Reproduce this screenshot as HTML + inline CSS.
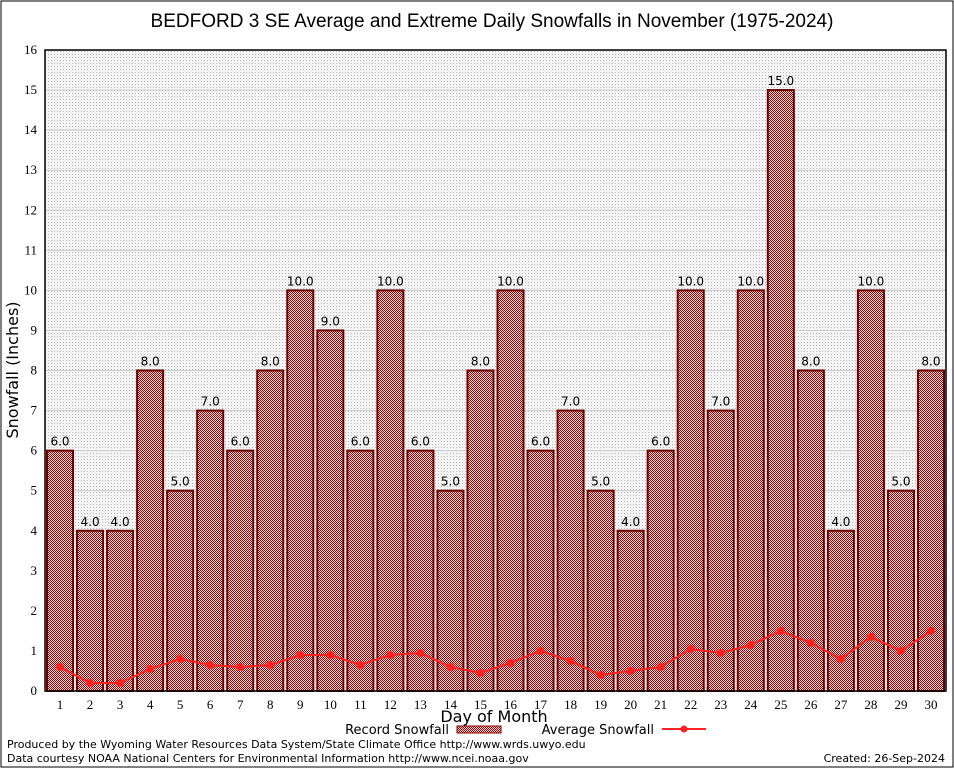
<!DOCTYPE html>
<html><head><meta charset="utf-8"><style>
body{margin:0;background:#fff}
svg text{font-family:"DejaVu Sans","Liberation Sans",sans-serif}
svg text.serif{font-family:"Liberation Serif","DejaVu Serif",serif}
svg text.title{font-family:"Liberation Sans",sans-serif}
</style></head><body>
<svg id="c" width="954" height="768" xmlns="http://www.w3.org/2000/svg">
<defs>
<pattern id="chk" width="2" height="2" patternUnits="userSpaceOnUse">
<rect width="2" height="2" fill="#f4dede"/><rect width="1" height="1" fill="#9a0000"/><rect x="1" y="1" width="1" height="1" fill="#9a0000"/>
</pattern>
<pattern id="bg" width="3" height="3" patternUnits="userSpaceOnUse">
<rect width="3" height="3" fill="#f4f4f4"/><rect width="1" height="1" fill="#bbb"/>
</pattern>
</defs>
<rect x="1" y="1" width="952" height="766" fill="none" stroke="#000"/>
<text class="title" x="492" y="27" font-size="19" text-anchor="middle">BEDFORD 3 SE Average and Extreme Daily Snowfalls in November (1975-2024)</text>
<rect x="45" y="50" width="901" height="641" fill="url(#bg)"/>
<g id="grid"></g><g id="bars"></g><g id="line"></g><g id="axes"></g>
<text transform="translate(18,370) rotate(-90)" font-size="16" text-anchor="middle">Snowfall (Inches)</text>
<text x="494" y="722" font-size="16" text-anchor="middle">Day of Month</text>
<g>
<text x="449" y="734" font-size="13" text-anchor="end">Record Snowfall</text>
<rect x="457" y="726" width="44" height="7" fill="url(#chk)" stroke="#8b0000"/>
<text x="654" y="734" font-size="13" text-anchor="end">Average Snowfall</text>
<line x1="662" y1="729" x2="706" y2="729" stroke="#f22" stroke-width="2"/>
<circle cx="684" cy="729" r="3.5" fill="#f22"/>
</g>
<text x="7" y="748" font-size="11">Produced by the Wyoming Water Resources Data System/State Climate Office http://www.wrds.uwyo.edu</text>
<text x="7" y="762" font-size="11">Data courtesy NOAA National Centers for Environmental Information http://www.ncei.noaa.gov</text>
<text x="945" y="762" font-size="11" text-anchor="end">Created:  26-Sep-2024</text>
</svg>
<script>
const days=[1,2,3,4,5,6,7,8,9,10,11,12,13,14,15,16,17,18,19,20,21,22,23,24,25,26,27,28,29,30];
const records=[6,4,4,8,5,7,6,8,10,9,6,10,6,5,8,10,6,7,5,4,6,10,7,10,15,8,4,10,5,8];
const averages=[0.6,0.2,0.2,0.55,0.8,0.65,0.6,0.65,0.9,0.9,0.65,0.9,0.95,0.6,0.45,0.7,1.0,0.75,0.4,0.5,0.6,1.05,0.95,1.15,1.5,1.2,0.8,1.35,1.0,1.5];
const yTicks=[0,1,2,3,4,5,6,7,8,9,10,11,12,13,14,15,16];
const X0=45,X1=946,Y0=691,Y1=50,YMAX=16;
const NS="http://www.w3.org/2000/svg";
const xs=d=>X0+(d-0.5)*(X1-X0)/days.length;
const ys=v=>Y0-v*(Y0-Y1)/YMAX;
function mk(t,a,p){const e=document.createElementNS(NS,t);for(const k in a)e.setAttribute(k,a[k]);p.appendChild(e);return e;}
const grid=document.getElementById('grid'),bars=document.getElementById('bars'),line=document.getElementById('line'),axes=document.getElementById('axes');
yTicks.forEach(t=>{
 const g=mk('line',{x1:X0,x2:X1,y1:ys(t),y2:ys(t),stroke:'#ccc'},grid);
 
 
 const l=mk('text',{x:X0-8,y:ys(t)+4,'font-size':13,'text-anchor':'end','class':'serif'},axes);
 l.textContent=t;
 
 
});
days.forEach((d,i)=>{
 const w=(X1-X0)/days.length-4;
 const r=mk('rect',{x:xs(d)-w/2,y:ys(records[i]),width:w,height:Y0-ys(records[i]),fill:'url(#chk)',stroke:'#6a0000','stroke-width':2},bars);
 
 
 const v=mk('text',{x:xs(d),y:ys(records[i])-5,'font-size':12,'text-anchor':'middle'},bars);
 v.textContent=records[i].toFixed(1);
 
 
 const l=mk('text',{x:xs(d),y:Y0+18,'font-size':13,'text-anchor':'middle','class':'serif'},axes);
 l.textContent=d;
 
 
});
const pl=mk('polyline',{points:days.map((d,i)=>xs(d)+','+ys(averages[i])).join(' '),fill:'none',stroke:'#f22','stroke-width':2},line);


days.forEach((d,i)=>{
 const c=mk('circle',{cx:xs(d),cy:ys(averages[i]),r:4,fill:'#f22'},line);
 
 
});
const fr=mk('rect',{x:X0,y:Y1,width:X1-X0,height:Y0-Y1,fill:'none',stroke:'#000','stroke-width':1.5},axes);


</script>
</body></html>
